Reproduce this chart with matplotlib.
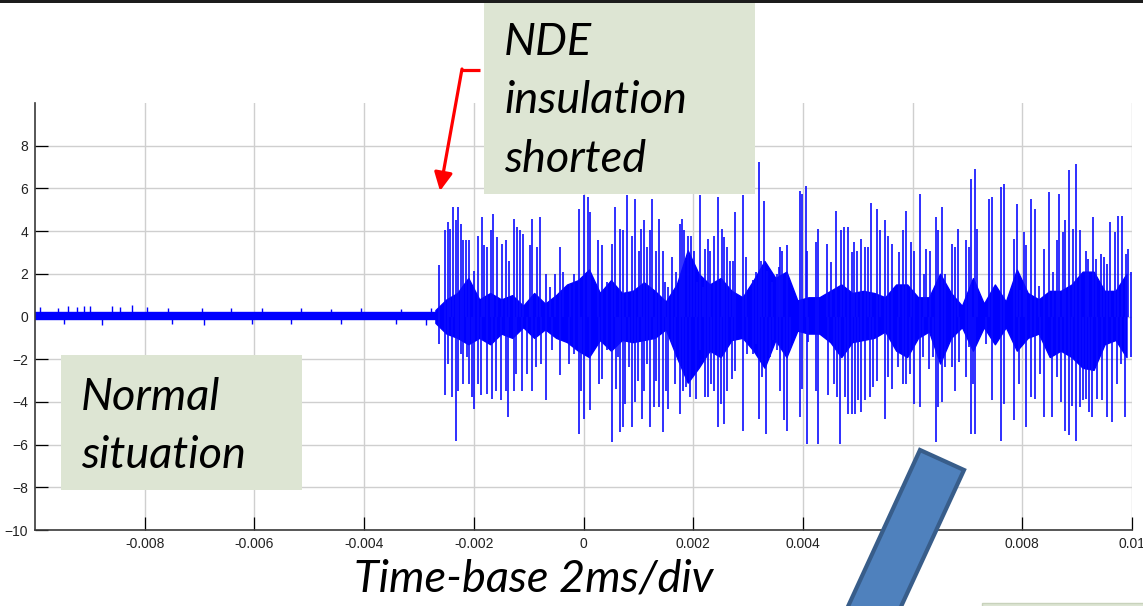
import matplotlib
matplotlib.use("Agg")
import matplotlib.pyplot as plt
from matplotlib.patches import Rectangle, Polygon
import numpy as np

# SIGNAL DATA (time in ms, amplitude in scope units)

# normal situation: thin noise band before the fault
norm_t = [-10.0, -2.7]
norm_hi = [0.2, 0.2]
norm_lo = [-0.14, -0.14]

norm_spk_t = [-9.91, -9.58, -9.40, -9.24, -9.11, -9.00, -8.60, -8.45, -8.24, -7.95,
              -7.58, -6.96, -6.42, -5.87, -5.15, -4.60, -4.05, -3.33, -2.78,
              -9.47, -8.78, -7.51, -6.91, -6.05, -5.33, -4.42, -3.42, -2.87]
norm_spk_v = [0.45, 0.42, 0.48, 0.45, 0.48, 0.50, 0.48, 0.45, 0.52, 0.45,
              0.42, 0.40, 0.38, 0.40, 0.38, 0.36, 0.38, 0.36, 0.40,
              -0.35, -0.38, -0.35, -0.38, -0.33, -0.35, -0.35, -0.35, -0.38]

# shorted insulation: dense core envelope
core_t = [-2.7, -2.5, -2.3, -2.1, -1.9, -1.7, -1.5, -1.3, -1.1, -0.9, -0.7, -0.5, -0.3, -0.1, 0.1, 0.3,
          0.5, 0.7, 0.9, 1.1, 1.3, 1.5, 1.7, 1.9, 2.1, 2.3, 2.5, 2.7, 2.9, 3.1, 3.3, 3.5,
          3.7, 3.9, 4.1, 4.3, 4.5, 4.7, 4.9, 5.1, 5.3, 5.5, 5.7, 5.9, 6.1, 6.3, 6.5, 6.7,
          6.9, 7.1, 7.3, 7.5, 7.7, 7.9, 8.1, 8.3, 8.5, 8.7, 8.9, 9.1, 9.3, 9.5, 9.7, 9.9]
core_hi = [0.3, 0.8, 1.1, 1.8, 0.8, 1.1, 0.8, 1.0, 0.5, 1.1, 0.6, 1.0, 1.5, 1.7, 2.2, 1.1,
           1.7, 1.1, 1.2, 1.6, 1.2, 0.7, 1.5, 3.1, 2.0, 1.5, 1.8, 1.2, 0.9, 1.7, 2.6, 1.8,
           2.1, 0.75, 0.9, 0.9, 1.2, 1.5, 1.1, 1.2, 1.1, 0.9, 1.5, 1.5, 0.9, 0.9, 2.0, 1.1,
           0.5, 1.8, 0.6, 1.5, 0.7, 2.2, 1.1, 0.8, 1.2, 1.2, 1.5, 2.1, 2.1, 1.2, 1.2, 2.0]
core_lo = [-0.3, -0.8, -1.0, -1.3, -1.0, -1.3, -0.8, -1.0, -0.5, -1.0, -0.6, -1.0, -1.2, -1.6, -1.9, -1.1,
           -1.6, -1.1, -1.2, -1.1, -1.0, -0.6, -1.9, -3.1, -2.4, -1.6, -1.9, -1.1, -1.0, -1.6, -2.4, -1.1,
           -1.9, -0.66, -0.8, -0.8, -1.2, -1.9, -1.2, -1.1, -1.0, -0.7, -1.6, -1.9, -1.0, -0.7, -2.2, -1.0,
           -0.5, -1.6, -0.5, -1.3, -0.5, -1.6, -1.0, -0.8, -1.9, -1.6, -1.9, -2.4, -2.5, -1.3, -1.1, -1.9]

# positive spikes
pos_t = [-2.642, -2.527, -2.473, -2.436, -2.388, -2.321, -2.285, -2.236, -2.194, -2.145,
         -2.085, -1.994, -1.921, -1.855, -1.806, -1.752, -1.691, -1.642, -1.582, -1.479,
         -1.412, -1.352, -1.273, -1.218, -1.152, -1.103, -0.982, -0.933, -0.848, -0.788,
         -0.679, -0.606, -0.521, -0.430, -0.370, -0.255, -0.176, -0.091, 0.018, 0.079,
         0.121, 0.267, 0.339, 0.430, 0.527, 0.576, 0.673, 0.721, 0.794, 0.891,
         0.939, 1.006, 1.055, 1.103, 1.158, 1.206, 1.255, 1.327, 1.376, 1.448,
         1.491, 1.545, 1.612, 1.691, 1.758, 1.800, 1.836, 1.903, 1.958, 2.006,
         2.067, 2.115, 2.176, 2.224, 2.267, 2.315, 2.388, 2.448, 2.521, 2.564,
         2.624, 2.673, 2.721, 2.764, 2.915, 2.964, 3.097, 3.145, 3.200, 3.242,
         3.291, 3.339, 3.436, 3.521, 3.570, 3.582, 3.624, 3.703, 3.945, 3.976,
         4.048, 4.079, 4.230, 4.279, 4.448, 4.521, 4.612, 4.691, 4.758, 4.824,
         4.891, 4.933, 4.994, 5.055, 5.127, 5.188, 5.248, 5.345, 5.406, 5.491,
         5.558, 5.630, 5.745, 5.818, 5.873, 5.970, 6.024, 6.133, 6.200, 6.248,
         6.309, 6.424, 6.467, 6.539, 6.594, 6.715, 6.764, 6.836, 6.976, 7.024,
         7.073, 7.145, 7.170, 7.400, 7.448, 7.612, 7.673, 7.855, 7.897, 7.958,
         8.030, 8.067, 8.158, 8.224, 8.309, 8.400, 8.491, 8.552, 8.630, 8.661,
         8.733, 8.782, 8.855, 8.927, 8.976, 9.048, 9.158, 9.206, 9.291, 9.339,
         9.436, 9.491, 9.552, 9.606, 9.691, 9.745, 9.824, 9.885, 9.921, 9.988]
pos_v = [2.39, 4.03, 4.42, 4.11, 5.12, 4.50, 5.12, 4.34, 3.56, 3.56,
         3.56, 2.15, 3.79, 4.65, 3.33, 3.25, 4.03, 4.81, 3.72, 3.40,
         3.56, 2.62, 4.57, 4.18, 4.03, 3.87, 3.33, 4.57, 3.25, 4.65,
         2.00, 1.38, 2.00, 3.25, 2.08, 1.53, 2.00, 5.04, 5.67, 5.59,
         4.89, 3.56, 3.33, 1.61, 3.40, 5.12, 4.11, 4.03, 5.67, 3.79,
         5.51, 3.09, 4.11, 4.50, 3.25, 4.03, 5.51, 3.09, 4.57, 3.09,
         1.61, 1.38, 2.78, 2.08, 4.34, 4.57, 4.03, 3.79, 3.79, 3.09,
         1.61, 5.67, 1.38, 3.17, 3.64, 3.09, 3.79, 5.59, 4.11, 3.72,
         3.25, 2.62, 2.62, 4.89, 5.67, 2.78, 1.69, 2.08, 7.23, 2.62,
         5.43, 2.15, 1.61, 2.00, 2.31, 3.25, 3.09, 3.33, 5.90, 5.74,
         6.13, 3.09, 3.48, 4.11, 3.40, 2.54, 4.96, 4.03, 4.18, 4.18,
         3.01, 3.48, 3.09, 3.64, 3.25, 3.25, 5.31, 5.04, 4.03, 4.50,
         3.79, 3.40, 3.01, 4.03, 4.96, 3.48, 3.09, 5.74, 2.00, 3.17,
         3.09, 4.65, 4.03, 5.12, 2.00, 3.40, 3.25, 4.08, 3.56, 3.25,
         6.45, 6.92, 4.11, 5.51, 5.59, 6.06, 6.21, 3.64, 5.28, 1.22,
         3.95, 3.33, 5.51, 5.04, 1.45, 3.17, 5.82, 2.08, 3.56, 5.74,
         3.95, 4.50, 6.84, 4.11, 7.12, 4.03, 3.09, 2.70, 4.65, 2.70,
         2.93, 2.78, 2.47, 4.42, 3.95, 4.73, 4.73, 2.93, 3.17, 2.08]

# negative spikes
neg_t = [-2.642, -2.527, -2.473, -2.394, -2.327, -2.285, -2.236, -2.194, -2.133, -2.085,
         -2.024, -1.994, -1.921, -1.861, -1.752, -1.661, -1.588, -1.509, -1.418, -1.370,
         -1.273, -1.224, -1.127, -1.036, -0.933, -0.873, -0.782, -0.679, -0.570, -0.430,
         -0.267, -0.176, -0.091, -0.042, 0.000, 0.115, 0.291, 0.339, 0.430, 0.527,
         0.588, 0.636, 0.673, 0.715, 0.764, 0.830, 0.891, 0.945, 1.000, 1.061,
         1.109, 1.158, 1.206, 1.279, 1.327, 1.376, 1.442, 1.497, 1.545, 1.606,
         1.667, 1.758, 1.812, 1.873, 1.945, 2.048, 2.115, 2.212, 2.273, 2.327,
         2.388, 2.448, 2.515, 2.564, 2.624, 2.709, 2.764, 2.915, 2.976, 3.085,
         3.139, 3.200, 3.255, 3.321, 3.400, 3.461, 3.521, 3.582, 3.661, 3.703,
         3.764, 3.945, 3.976, 4.067, 4.097, 4.230, 4.279, 4.461, 4.564, 4.618,
         4.679, 4.764, 4.824, 4.897, 4.952, 5.000, 5.055, 5.127, 5.218, 5.279,
         5.358, 5.491, 5.558, 5.630, 5.733, 5.824, 5.885, 5.958, 6.024, 6.133,
         6.194, 6.291, 6.364, 6.424, 6.467, 6.539, 6.582, 6.715, 6.764, 6.855,
         6.976, 7.024, 7.073, 7.097, 7.145, 7.339, 7.448, 7.612, 7.673, 7.842,
         7.945, 8.067, 8.164, 8.236, 8.321, 8.400, 8.539, 8.630, 8.703, 8.782,
         8.855, 8.915, 8.982, 9.048, 9.115, 9.158, 9.218, 9.279, 9.364, 9.460,
         9.552, 9.630, 9.721, 9.794, 9.873, 9.976]
neg_v = [-1.28, -3.70, -2.22, -3.78, -5.81, -3.47, -1.75, -3.15, -1.90, -3.15,
         -3.78, -4.32, -3.15, -3.70, -3.62, -3.86, -3.47, -3.93, -3.47, -4.72,
         -3.47, -2.69, -3.47, -2.69, -3.47, -2.37, -2.22, -3.93, -1.59, -2.76,
         -2.22, -1.75, -5.50, -3.47, -4.79, -4.40, -3.15, -2.92, -1.59, -5.89,
         -3.39, -1.90, -5.42, -5.18, -4.09, -2.37, -5.18, -4.01, -3.00, -4.79,
         -3.47, -2.22, -5.18, -4.25, -3.00, -4.25, -5.42, -3.47, -4.32, -1.28,
         -3.15, -4.56, -3.47, -3.31, -3.78, -3.86, -1.59, -3.78, -3.78, -3.15,
         -3.47, -5.18, -4.09, -5.03, -3.47, -2.92, -2.53, -5.34, -1.75, -1.75,
         -1.28, -4.79, -2.84, -5.50, -1.90, -1.12, -1.59, -3.47, -4.87, -5.34,
         -1.59, -4.72, -3.39, -5.97, -1.20, -3.47, -5.97, -3.70, -3.15, -3.78,
         -5.97, -3.78, -4.56, -4.56, -4.56, -3.93, -4.48, -3.93, -3.78, -3.31,
         -3.00, -4.79, -2.84, -3.39, -2.37, -3.15, -3.15, -2.69, -4.09, -4.25,
         -1.90, -2.45, -1.90, -5.89, -4.25, -4.01, -2.37, -2.37, -3.47, -2.14,
         -2.84, -1.44, -5.50, -3.15, -5.50, -1.28, -3.93, -5.81, -4.09, -4.87,
         -3.15, -5.18, -3.78, -3.86, -2.69, -4.72, -4.72, -2.84, -4.01, -5.34,
         -5.57, -4.17, -5.81, -4.25, -3.93, -3.86, -4.48, -4.72, -3.86, -3.93,
         -4.72, -4.95, -3.15, -2.22, -4.72, -1.90]

x_ticks = [-8, -6, -4, -2, 0, 2, 4, 6, 8, 10]
x_labels = ['-0.008', '-0.006', '-0.004', '-0.002', '0', '0.002', '0.004', '0.006', '0.008', '0.01']
y_ticks = [-10, -8, -6, -4, -2, 0, 2, 4, 6, 8]

# FIGURE

plt.rcParams['font.family'] = ['Liberation Sans', 'DejaVu Sans']

W, H = 1143, 606
fig = plt.figure(figsize=(W / 100, H / 100), dpi=100)
fig.patch.set_facecolor('white')

ax = fig.add_axes([35 / W, 76 / H, 1097 / W, 427 / H])

ms = lambda a: np.asarray(a) / 1000.0

ax.fill_between(ms(norm_t), norm_lo, norm_hi, color='#0000ff', lw=1.0)
ax.vlines(ms(norm_spk_t), 0, norm_spk_v, color='#0000ff', lw=1.0)
ax.fill_between(ms(core_t), core_lo, core_hi, color='#0000ff', lw=1.0)
ax.vlines(ms(pos_t), 0, pos_v, color='#0c0cff', lw=1.2)
ax.vlines(ms(neg_t), 0, neg_v, color='#0c0cff', lw=1.2)

ax.set_xlim(-0.01, 0.01)
ax.set_ylim(-10, 10)
ax.set_xticks(ms(x_ticks))
ax.set_xticklabels(x_labels)
ax.set_yticks(y_ticks)
ax.grid(True, color='#cfcfcf', lw=1.0)
ax.set_axisbelow(True)
for s in ['top', 'right']:
    ax.spines[s].set_visible(False)
for s in ['left', 'bottom']:
    ax.spines[s].set_color('#3a3a3a')
    ax.spines[s].set_linewidth(1.2)
ax.tick_params(direction='in', length=9.5, width=0.9, color='black',
               labelsize=10, pad=5, labelcolor='#222222')

# OVERLAY (slide annotations, pixel coordinates)

ov = fig.add_axes([0, 0, 1, 1], zorder=5)
ov.set_xlim(0, W)
ov.set_ylim(H, 0)
ov.axis('off')
ov.patch.set_alpha(0)

box_green = '#dde5d3'
txt_kw = dict(fontsize=32.5, style='italic', family=['Lato', 'Open Sans', 'DejaVu Sans'],
              color='black', va='baseline', ha='left')

ov.add_patch(Rectangle((0, 0), W, 3, color='#1c1c1c', lw=0))

ov.add_patch(Rectangle((484, 3), 271, 191, facecolor=box_green, edgecolor='none'))
ov.text(504, 55, 'NDE', **txt_kw)
ov.text(504, 113, 'insulation', **txt_kw)
ov.text(504, 172, 'shorted', **txt_kw)

ov.plot([480, 462], [70, 70], color='#ff0000', lw=2.3, solid_capstyle='butt')
ov.annotate('', xy=(440, 191), xytext=(462, 69),
            arrowprops=dict(arrowstyle='-|>,head_length=0.5,head_width=0.25',
                            color='#ff0000', lw=2.3, mutation_scale=22,
                            shrinkA=0, shrinkB=0))

ov.add_patch(Rectangle((61, 355), 241, 135, facecolor=box_green, edgecolor='none'))
ov.text(81, 410, 'Normal', **txt_kw)
ov.text(81, 468, 'situation', **txt_kw)

ov.text(354, 592, 'Time-base 2ms/div', **txt_kw)

ov.add_patch(Polygon([(920, 450), (964, 470), (881, 650), (828, 650)],
                     closed=True, facecolor='#4f81bd', edgecolor='#385d8a',
                     lw=3, joinstyle='miter'))

ov.add_patch(Rectangle((982, 603), 200, 40, facecolor=box_green, edgecolor='#c8d2bc', lw=1))

fig.savefig('out.png', dpi=100)
